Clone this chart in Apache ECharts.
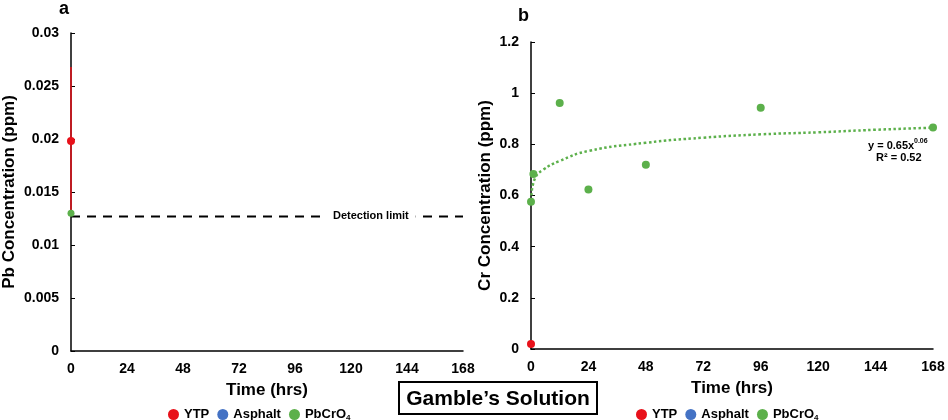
<!DOCTYPE html>
<html>
<head>
<meta charset="utf-8">
<script src="https://cdn.jsdelivr.net/npm/echarts@6/dist/echarts.min.js"></script>
<style>
  html, body { margin: 0; padding: 0; background: #fff; }
  #chart { width: 948px; height: 420px; }
</style>
</head>
<body>
<div id="chart"></div>
<script>
// time ticks (hrs)
const timeTicks = [0, 24, 48, 72, 96, 120, 144, 168];

// panel a: Pb
const pbYtpTime = [0];
const pbYtpValue = [0.0198];
const pbYtpError = [0.007];
const pbChromateTime = [0];
const pbChromateValue = [0.013];
const pbDetectionLimit = 0.0127;
const detectionLabelTime = 128.5;

// panel b: Cr
const crYtpTime = [0];
const crYtpValue = [0.0195];
const crChromateTime = [0, 1, 12, 24, 48, 96, 168];
const crChromateValue = [0.576, 0.684, 0.962, 0.623, 0.72, 0.943, 0.866];
// dotted power trendline
const trendTime = [0.2, 1.7, 5, 12, 24, 48, 72, 96, 120, 144, 168];
const trendValue = [0.60, 0.668, 0.70, 0.735, 0.774, 0.806, 0.826, 0.839, 0.847, 0.857, 0.865];

const RED = '#e8111a';
const BLUE = '#4472c4';
const GREEN = '#5cb04b';
const FONT = 'Liberation Sans';

const zip = (xs, ys) => xs.map((x, i) => [x, ys[i]]);

const myChart = echarts.init(document.getElementById('chart'));

function xAxisCfg(gridIndex) {
    return {
        type: 'value', gridIndex: gridIndex, min: 0, max: 168, interval: 24,
        axisLine: { lineStyle: { color: '#000', width: 1.5 } },
        axisTick: { show: false },
        splitLine: { show: false },
        axisLabel: { color: '#000', fontFamily: FONT, fontWeight: 'bold', fontSize: 14, margin: 11 },
        name: 'Time (hrs)', nameLocation: 'middle', nameGap: 31,
        nameTextStyle: { color: '#000', fontFamily: FONT, fontWeight: 'bold', fontSize: 17 }
    };
}

function yAxisCfg(gridIndex, max, interval, name, gap) {
    return {
        type: 'value', gridIndex: gridIndex, min: 0, max: max, interval: interval,
        axisLine: { show: true, lineStyle: { color: '#000', width: 1.5 } },
        axisTick: { show: true, inside: true, length: 4, lineStyle: { color: '#000' } },
        splitLine: { show: false },
        axisLabel: { color: '#000', fontFamily: FONT, fontWeight: 'bold', fontSize: 14, margin: 12 },
        name: name, nameLocation: 'middle', nameGap: gap, nameRotate: 90,
        nameTextStyle: { color: '#000', fontFamily: FONT, fontWeight: 'bold', fontSize: 17 }
    };
}

const legendBase = {
    icon: 'circle', itemWidth: 11, itemHeight: 11, itemGap: 8,
    textStyle: {
        color: '#000', fontFamily: FONT, fontWeight: 'bold', fontSize: 13,
        rich: {
            n: { fontFamily: FONT, fontWeight: 'bold', fontSize: 13, color: '#000' },
            s: { fontFamily: FONT, fontWeight: 'bold', fontSize: 8, color: '#000', padding: [6, 0, 0, 0] }
        }
    },
    formatter: function (name) {
        return name === 'PbCrO4' ? '{n|PbCrO}{s|4}' : name;
    },
    data: ['YTP', 'Asphalt', 'PbCrO4']
};

const dotStyle = (color) => ({ color: color, opacity: 1 });

let option = {
    animation: false,
    grid: [
        { left: 70, top: 33, right: 485, bottom: 69 },
        { left: 531, top: 42, right: 15, bottom: 71 }
    ],
    xAxis: [xAxisCfg(0), xAxisCfg(1)],
    yAxis: [
        yAxisCfg(0, 0.03, 0.005, 'Pb Concentration (ppm)', 53),
        yAxisCfg(1, 1.2, 0.2, 'Cr Concentration (ppm)', 37)
    ],
    legend: [
        Object.assign({ left: 163, top: 403 }, legendBase),
        Object.assign({ left: 631, top: 403 }, legendBase)
    ],
    title: [
        { text: 'a', left: 54, top: -5, textStyle: { fontFamily: FONT, fontWeight: 'bold', fontSize: 18, color: '#000' } },
        { text: 'b', left: 513, top: 2, textStyle: { fontFamily: FONT, fontWeight: 'bold', fontSize: 18, color: '#000' } }
    ],
    series: [
        // panel a
        {
            name: 'Detection limit', type: 'line', xAxisIndex: 0, yAxisIndex: 0,
            data: [[0, pbDetectionLimit], [168, pbDetectionLimit]],
            showSymbol: false, lineStyle: { color: '#000', type: [9, 7], width: 2 }, z: 1
        },
        {
            name: 'YTP error', type: 'line', xAxisIndex: 0, yAxisIndex: 0,
            data: [[pbYtpTime[0], pbYtpValue[0] - pbYtpError[0]], [pbYtpTime[0], pbYtpValue[0] + pbYtpError[0]]],
            showSymbol: false, lineStyle: { color: RED, width: 1.5 }, z: 3
        },
        {
            name: 'YTP', type: 'scatter', xAxisIndex: 0, yAxisIndex: 0, clip: false,
            data: zip(pbYtpTime, pbYtpValue), symbolSize: 8, itemStyle: dotStyle(RED), z: 5
        },
        {
            name: 'Asphalt', type: 'scatter', xAxisIndex: 0, yAxisIndex: 0,
            data: [], itemStyle: dotStyle(BLUE)
        },
        {
            name: 'PbCrO4', type: 'scatter', xAxisIndex: 0, yAxisIndex: 0, clip: false,
            data: zip(pbChromateTime, pbChromateValue), symbolSize: 7, itemStyle: dotStyle(GREEN), z: 5
        },
        // panel b
        {
            name: 'trend', type: 'line', xAxisIndex: 1, yAxisIndex: 1,
            data: zip(trendTime, trendValue), smooth: true, showSymbol: false,
            lineStyle: { color: GREEN, type: 'dotted', width: 2.5 }, z: 2
        },
        {
            name: 'YTP', type: 'scatter', xAxisIndex: 1, yAxisIndex: 1, clip: false,
            data: zip(crYtpTime, crYtpValue), symbolSize: 8, itemStyle: dotStyle(RED), z: 5
        },
        {
            name: 'Asphalt', type: 'scatter', xAxisIndex: 1, yAxisIndex: 1,
            data: [], itemStyle: dotStyle(BLUE)
        },
        {
            name: 'PbCrO4', type: 'scatter', xAxisIndex: 1, yAxisIndex: 1, clip: false,
            data: zip(crChromateTime, crChromateValue), symbolSize: 8, itemStyle: dotStyle(GREEN), z: 5
        }
    ]
};

if (option && typeof option === "object") {
    myChart.setOption(option, true);
}

// annotations placed through the chart's own scales
const labelPos = myChart.convertToPixel({ gridIndex: 0 }, [detectionLabelTime, pbDetectionLimit]);
myChart.setOption({
    graphic: [
        {
            type: 'text', x: labelPos[0], y: labelPos[1], z: 10,
            style: {
                text: 'Detection limit', fill: '#000', font: 'bold 11px "Liberation Sans"',
                align: 'center', verticalAlign: 'middle',
                backgroundColor: '#fff', padding: [2, 7]
            }
        },
        {
            type: 'rect', x: 399, y: 382, z: 10,
            shape: { width: 198, height: 32 },
            style: { fill: '#fff', stroke: '#000', lineWidth: 2 }
        },
        {
            type: 'text', x: 498, y: 399, z: 11,
            style: {
                text: 'Gamble\u2019s Solution', fill: '#000', font: 'bold 21px "Liberation Sans"',
                align: 'center', verticalAlign: 'middle'
            }
        },
        {
            type: 'text', x: 868, y: 140, z: 10,
            style: { text: 'y = 0.65x', fill: '#000', font: 'bold 11px "Liberation Sans"' }
        },
        {
            type: 'text', x: 914, y: 138, z: 10,
            style: { text: '0.06', fill: '#000', font: 'bold 7px "Liberation Sans"' }
        },
        {
            type: 'text', x: 876, y: 152, z: 10,
            style: { text: 'R\u00b2 = 0.52', fill: '#000', font: 'bold 11px "Liberation Sans"' }
        }
    ]
});
</script>
</body>
</html>
